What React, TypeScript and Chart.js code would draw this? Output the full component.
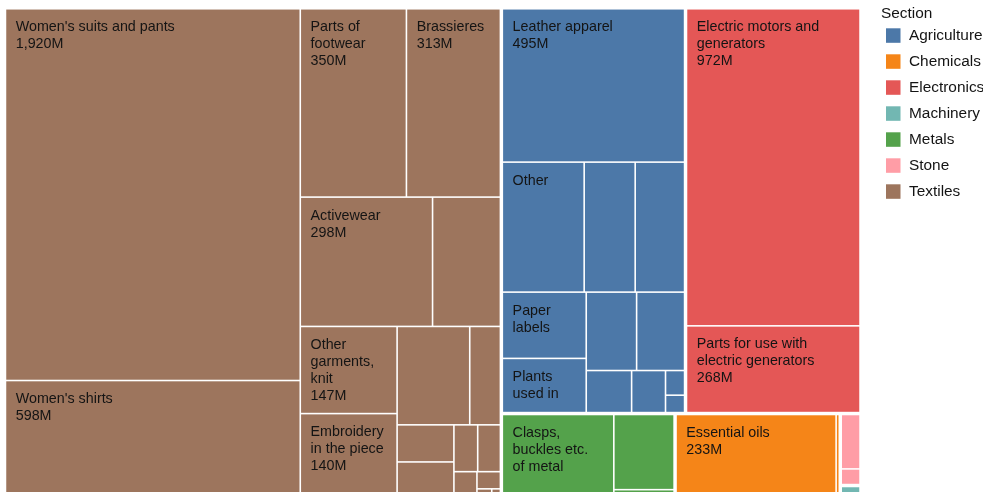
import { useEffect, useRef } from 'react';
import { Chart, registerables } from 'chart.js';

Chart.register(...registerables);

// ---- Data ----
const sections = ['Agriculture', 'Chemicals', 'Electronics', 'Machinery', 'Metals', 'Stone', 'Textiles'];
const sectionColors = ['#4c78a8', '#f58518', '#e45756', '#72b7b2', '#54a24b', '#ff9da6', '#9d755d'];

const agricultureNames = ['Leather apparel', 'Other', '', '', 'Paper labels', 'Plants used in perfumery', '', '', '', '', '', ''];
const agricultureValues = [495, 187.5, 115.5, 114, 98, 81.5, 68.8, 66.8, 34.0, 25.4, 8.6, 6.4];

const chemicalsNames = ['Essential oils', ''];
const chemicalsValues = [233, 6];

const electronicsNames = ['Electric motors and generators', 'Parts for use with electric generators'];
const electronicsValues = [972, 268];

const machineryNames = [''];
const machineryValues = [4];

const metalsNames = ['Clasps, buckles etc. of metal', '', ''];
const metalsValues = [162.7, 81.2, 7.4];

const stoneNames = ['', ''];
const stoneValues = [20, 6];

const textilesNames = [
  "Women's suits and pants", "Women's shirts", 'Parts of footwear', 'Brassieres', 'Activewear', '',
  'Other garments, knit', 'Embroidery in the piece', '', '', '', '', '', '', '', '', '', '',
];
const textilesValues = [1920, 598, 350, 313, 298, 155, 147, 140, 124.5, 54.2, 36.7, 34.3, 19.4, 19.3, 10, 7.3, 2.0, 1.3];

const sectionNames = [agricultureNames, chemicalsNames, electronicsNames, machineryNames, metalsNames, stoneNames, textilesNames];
const sectionValues = [agricultureValues, chemicalsValues, electronicsValues, machineryValues, metalsValues, stoneValues, textilesValues];

// ---- Squarified treemap (d3 algorithm, golden ratio) ----
type Rect = { x0: number; y0: number; x1: number; y1: number };

function squarify(values: number[], r: Rect): Rect[] {
  const ratio = (1 + Math.sqrt(5)) / 2;
  const out: Rect[] = new Array(values.length);
  let { x0, y0, x1, y1 } = r;
  let value = values.reduce((a, b) => a + b, 0);
  const n = values.length;
  let i0 = 0;
  let i1 = 0;
  while (i0 < n) {
    const dx = x1 - x0;
    const dy = y1 - y0;
    let sumValue = values[i1++];
    let minValue = sumValue;
    let maxValue = sumValue;
    const alpha = Math.max(dy / dx, dx / dy) / (value * ratio);
    let beta = sumValue * sumValue * alpha;
    let minRatio = Math.max(maxValue / beta, beta / minValue);
    for (; i1 < n; ++i1) {
      const nv = values[i1];
      sumValue += nv;
      if (nv < minValue) minValue = nv;
      if (nv > maxValue) maxValue = nv;
      beta = sumValue * sumValue * alpha;
      const newRatio = Math.max(maxValue / beta, beta / minValue);
      if (newRatio > minRatio) {
        sumValue -= nv;
        break;
      }
      minRatio = newRatio;
    }
    if (dx < dy) {
      const yy = value ? y0 + (dy * sumValue) / value : y1;
      let x = x0;
      const k = (x1 - x0) / sumValue;
      for (let i = i0; i < i1; i++) {
        const w = values[i] * k;
        out[i] = { x0: x, y0, x1: x + w, y1: yy };
        x += w;
      }
      y0 = yy;
    } else {
      const xx = value ? x0 + (dx * sumValue) / value : x1;
      let y = y0;
      const k = (y1 - y0) / sumValue;
      for (let i = i0; i < i1; i++) {
        const h = values[i] * k;
        out[i] = { x0, y0: y, x1: xx, y1: y + h };
        y += h;
      }
      x0 = xx;
    }
    value -= sumValue;
    i0 = i1;
  }
  return out;
}

const LABEL_FONT = '14.3px "Liberation Sans", Arial, Helvetica, sans-serif';
const LEGEND_FONT = '15.4px "Liberation Sans", Arial, Helvetica, sans-serif';
const TEXT_COLOR = '#141414';

function wrapText(ctx: CanvasRenderingContext2D, text: string, maxW: number): string[] {
  const words = text.split(' ');
  const lines: string[] = [];
  let cur = '';
  for (const w of words) {
    const t = cur ? cur + ' ' + w : w;
    if (!cur || ctx.measureText(t).width <= maxW) cur = t;
    else {
      lines.push(cur);
      cur = w;
    }
  }
  if (cur) lines.push(cur);
  return lines;
}

const fmt = (v: number) => Math.round(v).toLocaleString('en-US') + 'M';

const treemapPlugin = {
  id: 'treemapCells',
  afterDatasetsDraw(chart: any) {
    const { ctx, chartArea, scales } = chart;
    const xs = scales.x;
    const ys = scales.y;
    const aspect = chartArea.width / chartArea.height;
    const totals = sectionValues.map((vals) => vals.reduce((a, b) => a + b, 0));
    const order = sections.map((_, i) => i).sort((a, b) => totals[b] - totals[a]);
    const secRects = squarify(order.map((i) => totals[i]), { x0: 0, y0: 0, x1: aspect, y1: 1 });
    const SEC_GAP = 1.75;
    const LEAF_GAP = 0.8;
    ctx.save();
    order.forEach((si, oi) => {
      const sr = secRects[oi];
      const sx0 = xs.getPixelForValue(sr.x0 / aspect) + SEC_GAP;
      const sx1 = xs.getPixelForValue(sr.x1 / aspect) - SEC_GAP;
      const sy0 = ys.getPixelForValue(sr.y0) + SEC_GAP;
      const sy1 = ys.getPixelForValue(sr.y1) - SEC_GAP;
      const vals = sectionValues[si];
      const names = sectionNames[si];
      const leaves = squarify(vals, sr);
      leaves.forEach((lr, li) => {
        const px0 = Math.max(xs.getPixelForValue(lr.x0 / aspect) + LEAF_GAP, sx0);
        const px1 = Math.min(xs.getPixelForValue(lr.x1 / aspect) - LEAF_GAP, sx1);
        const py0 = Math.max(ys.getPixelForValue(lr.y0) + LEAF_GAP, sy0);
        const py1 = Math.min(ys.getPixelForValue(lr.y1) - LEAF_GAP, sy1);
        if (px1 <= px0 || py1 <= py0) return;
        ctx.fillStyle = sectionColors[si];
        ctx.fillRect(px0, py0, px1 - px0, py1 - py0);
        const name = names[li];
        if (!name) return;
        const w = px1 - px0;
        ctx.font = LABEL_FONT;
        ctx.fillStyle = TEXT_COLOR;
        ctx.textAlign = 'left';
        ctx.textBaseline = 'alphabetic';
        const lines = wrapText(ctx, name, w - 19);
        if (w >= 88) lines.push(fmt(vals[li]));
        for (let i = 0; i < lines.length; i++) {
          const base = py0 + 21.7 + 17 * i;
          if (base > py1 - 8) break;
          ctx.fillText(lines[i], px0 + 9.5, base);
        }
      });
    });
    ctx.restore();
  },
  afterDraw(chart: any) {
    const { ctx } = chart;
    ctx.save();
    ctx.font = LEGEND_FONT;
    ctx.fillStyle = TEXT_COLOR;
    ctx.textAlign = 'left';
    ctx.textBaseline = 'alphabetic';
    ctx.fillText('Section', 881, 18.3);
    sections.forEach((s, i) => {
      const top = 28.3 + 26 * i;
      ctx.fillStyle = sectionColors[i];
      ctx.fillRect(886, top, 14.5, 14.5);
      ctx.fillStyle = TEXT_COLOR;
      ctx.fillText(s, 909, top + 11.8);
    });
    ctx.restore();
  },
};

export default function App() {
  const ref = useRef<HTMLCanvasElement | null>(null);
  useEffect(() => {
    if (!ref.current) return;
    const chart = new Chart(ref.current, {
      type: 'scatter',
      data: {
        datasets: sections.map((s, i) => ({ label: s, data: [], backgroundColor: sectionColors[i] })),
      },
      options: {
        animation: false,
        responsive: false,
        maintainAspectRatio: false,
        devicePixelRatio: 1,
        layout: { padding: { left: 4.5, top: 7.8, right: 1000 - 861, bottom: 500 - 496.6 } },
        plugins: { legend: { display: false }, tooltip: { enabled: false } },
        scales: {
          x: { type: 'linear', min: 0, max: 1, display: false },
          y: { type: 'linear', min: 0, max: 1, reverse: true, display: false },
        },
      },
      plugins: [treemapPlugin],
    } as any);
    return () => chart.destroy();
  }, []);
  return (
    <div style={{ position: 'fixed', left: 0, top: 0, width: '100vw', height: '100vh', overflow: 'hidden', background: '#ffffff' }}>
      <canvas ref={ref} width={1000} height={500} style={{ display: 'block', width: 1000, height: 500 }} />
    </div>
  );
}
